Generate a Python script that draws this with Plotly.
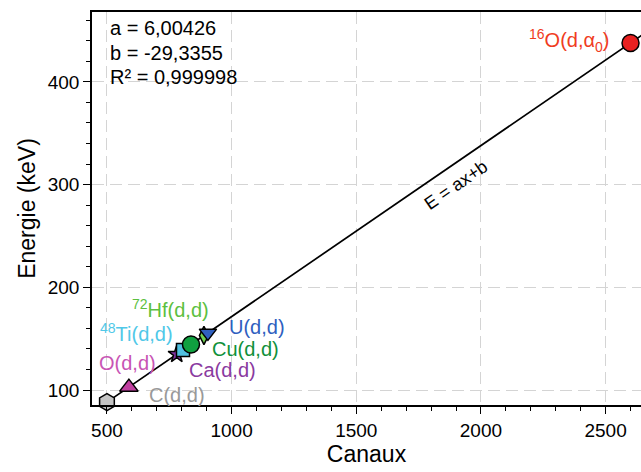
import plotly.graph_objects as go

# Fit parameters (channel = a*E + b)
fit_a = 6.00426
fit_b = -29.3355
fit_r2 = "0,999998"

# Calibration points
names = ["C(d,d)", "O(d,d)", "Ca(d,d)", "Ti(d,d)", "Cu(d,d)", "Hf(d,d)", "U(d,d)", "O(d,a0)"]
channels = [500, 588, 780, 805, 837, 889, 905, 2600]
energies = [88.2, 102.8, 134.8, 139.0, 144.3, 153.0, 155.6, 437.9]
symbols = ["hexagon", "triangle-up", "star", "square", "circle", "diamond-tall", "triangle-down", "circle"]
fills = ["#c4c4c4", "#c040a0", "#8030a0", "#50c0e0", "#10a040", "#70d050", "#3060c0", "#e82020"]
sizes = [17, 16, 13, 13, 17, 13, 15, 17]

# Labels
label_texts = ["C(d,d)", "O(d,d)", "Ca(d,d)", "<sup>48</sup>Ti(d,d)", "Cu(d,d)",
               "<sup>72</sup>Hf(d,d)", "U(d,d)", "<sup>16</sup>O(d,α<sub>0</sub>)"]
label_x = [660, 460, 821, 464, 913, 592, 981, 2526]
label_y = [95.1, 126.3, 119.5, 155.5, 140.0, 178.9, 161.3, 440.7]
label_colors = ["#999999", "#c855b4", "#8a3aa0", "#50c8e8", "#10903a", "#5cc040", "#2f5fbf", "#f03c1e"]
label_anchor = ["left", "left", "left", "left", "left", "left", "left", "right"]

line_ch = [500, 2700]
line_E = [(c - fit_b) / fit_a for c in line_ch]

fig = go.Figure()
fig.add_trace(go.Scatter(x=line_ch, y=line_E, mode="lines",
                         line=dict(color="black", width=1.7), showlegend=False,
                         hoverinfo="skip"))
for i in range(len(names)):
    fig.add_trace(go.Scatter(x=[channels[i]], y=[energies[i]], mode="markers",
                             marker=dict(symbol=symbols[i], size=sizes[i], color=fills[i],
                                         line=dict(color="black", width=1.5)),
                             name=names[i], showlegend=False, cliponaxis=False))

font_family = "Liberation Sans, Arial, sans-serif"
for i in range(len(names)):
    fig.add_annotation(x=label_x[i], y=label_y[i], text=label_texts[i], showarrow=False,
                       xanchor=label_anchor[i], yanchor="middle",
                       font=dict(size=20, color=label_colors[i], family=font_family))

stats = ["a = " + f"{fit_a:.5f}".replace(".", ","),
         "b = " + f"{fit_b:.4f}".replace(".", ","),
         "R² = " + fit_r2]
stats_y = [452.4, 428.1, 404.7]
for t, yy in zip(stats, stats_y):
    fig.add_annotation(x=504, y=yy, text=t, showarrow=False, xanchor="left", yanchor="middle",
                       font=dict(size=20, color="black", family=font_family))

fig.add_annotation(x=1900, y=299.6, text="E = ax+b", showarrow=False, textangle=-34.6,
                   font=dict(size=18, color="black", family=font_family))

axis_common = dict(
    showline=True, linecolor="black", linewidth=1.5,
    ticks="outside", ticklen=7, tickwidth=1.2, tickcolor="black",
    showgrid=True, gridcolor="#d4d4d4", griddash="12px,6px", gridwidth=1.3,
    zeroline=False,
    tickfont=dict(size=19, color="black", family=font_family),
)
fig.update_xaxes(**axis_common, range=[440, 2642], tickvals=[500, 1000, 1500, 2000, 2500],
                 mirror=True,
                 minor=dict(dtick=100, tick0=0, ticks="outside", ticklen=4, tickcolor="black", showgrid=False),
                 title=dict(text="Canaux", font=dict(size=23, color="black", family=font_family), standoff=6))
fig.update_yaxes(**axis_common, range=[85.4, 468], tickvals=[100, 200, 300, 400],
                 minor=dict(dtick=20, tick0=0, ticks="outside", ticklen=4, tickcolor="black", showgrid=False),
                 title=dict(text="Energie (keV)", font=dict(size=23, color="black", family=font_family), standoff=6))

fig.update_layout(width=641, height=472, margin=dict(l=92, r=0, t=12, b=67),
                  plot_bgcolor="white", paper_bgcolor="white")

fig.write_html("out.html")
